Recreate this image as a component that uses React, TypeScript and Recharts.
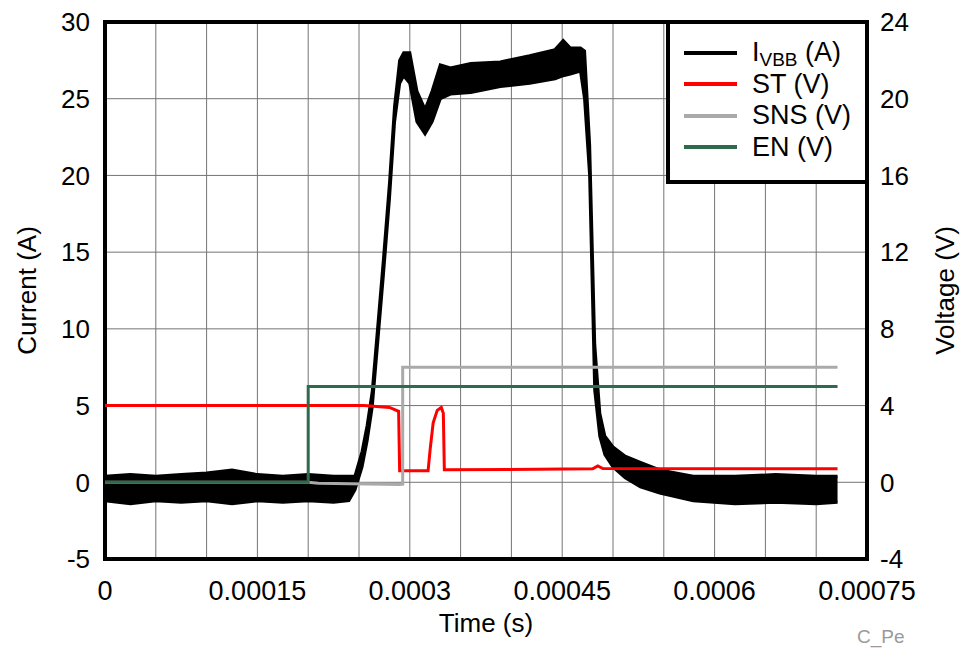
import React from 'react';
import { ComposedChart, Area, Line, XAxis, YAxis, CartesianGrid, ReferenceArea, Legend } from 'recharts';

const FONT = '"Liberation Sans", Arial, Helvetica, sans-serif';

// I_VBB scope trace is a noisy band -> kept as lower / upper envelope (A)
const iTime = [
  0, 0.000025, 0.00005, 0.000075, 0.0001, 0.000125, 0.00015, 0.000175, 0.0002, 0.000225,
  0.00024, 0.000246, 0.000253, 0.000258, 0.000263, 0.000268, 0.000274, 0.00028, 0.000285, 0.00029,
  0.000294, 0.0003, 0.000307, 0.000315, 0.000322, 0.00033, 0.00034, 0.00036, 0.000389, 0.000418,
  0.000443, 0.000451, 0.000458, 0.000468, 0.000472, 0.000477, 0.000482, 0.000487, 0.000492, 0.0005,
  0.000512, 0.000527, 0.000546, 0.000579, 0.00062, 0.00066, 0.0007, 0.000721,
];
const iLow = [
  -1.2, -1.4, -1.2, -1.3, -1.2, -1.4, -1.2, -1.3, -1.2, -1.3,
  -1.2, -0.5, 1.0, 2.7, 4.9, 8.8, 13.5, 18.5, 23.5, 26.0,
  26.5, 26.0, 23.5, 22.7, 23.5, 25.0, 25.3, 25.4, 25.8, 26.0,
  26.3, 26.5, 26.6, 26.8, 25.0, 20.0, 6.0, 3.0, 1.8, 1.0,
  0.3, -0.3, -0.7, -1.2, -1.4, -1.3, -1.4, -1.3,
];
const iHigh = [
  0.4, 0.5, 0.4, 0.5, 0.6, 0.8, 0.5, 0.4, 0.5, 0.4,
  0.4, 0.4, 2.0, 3.7, 5.9, 9.8, 14.5, 19.5, 24.5, 27.5,
  28.0, 28.0, 25.5, 24.3, 25.5, 27.2, 27.0, 27.3, 27.4, 27.8,
  28.2, 28.8, 28.3, 28.3, 28.1, 22.0, 9.0, 4.5, 3.0, 2.3,
  1.7, 1.3, 0.8, 0.4, 0.4, 0.5, 0.4, 0.4,
];

// ST (V)
const stTime = [0, 0.000255, 0.00028, 0.000289, 0.00029, 0.000318, 0.00032, 0.000323, 0.000327, 0.000331, 0.000333, 0.000334, 0.00048, 0.000485, 0.00049, 0.000721];
const stVolt = [4.0, 4.0, 3.9, 3.7, 0.6, 0.6, 1.7, 3.1, 3.75, 3.9, 3.6, 0.65, 0.7, 0.85, 0.72, 0.7];

// SNS (V)
const snsTime = [0, 0.0002, 0.00021, 0.00029, 0.000293, 0.000293, 0.000721];
const snsVolt = [0, 0, -0.05, -0.12, -0.1, 6.0, 6.0];

// EN (V)
const enTime = [0, 0.0002, 0.0002, 0.000721];
const enVolt = [0, 0, 5, 5];

const xTicks = [0, 0.00005, 0.0001, 0.00015, 0.0002, 0.00025, 0.0003, 0.00035, 0.0004, 0.00045, 0.0005, 0.00055, 0.0006, 0.00065, 0.0007, 0.00075];
const xTickLabels = ['0', '', '', '0.00015', '', '', '0.0003', '', '', '0.00045', '', '', '0.0006', '', '', '0.00075'];
const currentTicks = [-5, 0, 5, 10, 15, 20, 25, 30];
const voltageTicks = [-4, 0, 4, 8, 12, 16, 20, 24];

const iData = iTime.map((t, i) => ({ t, range: [iLow[i], iHigh[i]] }));
const stData = stTime.map((t, i) => ({ t, v: stVolt[i] }));
const snsData = snsTime.map((t, i) => ({ t, v: snsVolt[i] }));
const enData = enTime.map((t, i) => ({ t, v: enVolt[i] }));

const legendRows = [
  { name: 'I', sub: 'VBB', unit: ' (A)', color: '#000000' },
  { name: 'ST', sub: '', unit: ' (V)', color: '#ff0000' },
  { name: 'SNS', sub: '', unit: ' (V)', color: '#aaaaaa' },
  { name: 'EN', sub: '', unit: ' (V)', color: '#2e6b4c' },
];

const tickStyle = { fill: '#000', fontSize: 26, fontFamily: FONT };

function LegendBox() {
  return (
    <div
      style={{
        boxSizing: 'border-box',
        width: 203,
        height: 164,
        border: '4px solid #000',
        background: '#fff',
        paddingTop: 13,
        fontFamily: FONT,
        fontSize: 27,
        color: '#000',
      }}
    >
      {legendRows.map((r) => (
        <div key={r.name} style={{ display: 'flex', alignItems: 'center', height: 31.5 }}>
          <div style={{ marginLeft: 14, width: 53, height: 4, background: r.color }} />
          <span style={{ marginLeft: 15, lineHeight: '31.5px', whiteSpace: 'nowrap' }}>
            {r.name}
            {r.sub && <span style={{ fontSize: 19, verticalAlign: -5, lineHeight: 0 }}>{r.sub}</span>}
            {r.unit}
          </span>
        </div>
      ))}
    </div>
  );
}

export default function App() {
  return (
    <div style={{ position: 'absolute', left: 0, top: 0, width: 963, height: 650, background: '#fff', fontFamily: FONT }}>
      <ComposedChart width={963} height={650} margin={{ top: 22, right: 0, bottom: 0, left: 0 }}>
        <CartesianGrid yAxisId="I" stroke="#747474" strokeWidth={1} />
        <XAxis
          dataKey="t"
          type="number"
          domain={[0, 0.00075]}
          ticks={xTicks}
          interval={0}
          tickFormatter={(v: number) => xTickLabels[xTicks.indexOf(v)]}
          tickLine={false}
          axisLine={false}
          tickSize={0}
          tickMargin={22}
          height={91}
          tick={{ ...tickStyle, fontSize: 27 }}
          label={{ value: 'Time (s)', position: 'insideBottom', offset: 18, fill: '#000', fontSize: 26, fontFamily: FONT }}
        />
        <YAxis
          yAxisId="I"
          domain={[-5, 30]}
          ticks={currentTicks}
          interval={0}
          width={105}
          tickLine={false}
          axisLine={false}
          tickSize={0}
          tickMargin={15}
          tick={tickStyle}
          label={{ value: 'Current (A)', angle: -90, position: 'insideLeft', offset: 27, fill: '#000', fontSize: 26, fontFamily: FONT, style: { textAnchor: 'middle' } }}
        />
        <YAxis
          yAxisId="V"
          orientation="right"
          domain={[-4, 24]}
          ticks={voltageTicks}
          interval={0}
          width={96}
          tickLine={false}
          axisLine={false}
          tickSize={0}
          tickMargin={13}
          tick={tickStyle}
          label={{ value: 'Voltage (V)', angle: -90, position: 'insideRight', offset: 18, fill: '#000', fontSize: 26, fontFamily: FONT, style: { textAnchor: 'middle' } }}
        />
        <Area
          yAxisId="I"
          data={iData}
          dataKey="range"
          type="linear"
          stroke="#000"
          strokeWidth={3}
          fill="#000"
          fillOpacity={1}
          dot={false}
          activeDot={false}
          isAnimationActive={false}
        />
        <Line yAxisId="V" data={stData} dataKey="v" type="linear" stroke="#ff0000" strokeWidth={3} dot={false} activeDot={false} isAnimationActive={false} />
        <Line yAxisId="V" data={snsData} dataKey="v" type="linear" stroke="#aaaaaa" strokeWidth={3} dot={false} activeDot={false} isAnimationActive={false} />
        <Line yAxisId="V" data={enData} dataKey="v" type="linear" stroke="#2e6b4c" strokeWidth={3} dot={false} activeDot={false} isAnimationActive={false} />
        <ReferenceArea yAxisId="I" x1={0} x2={0.00075} y1={-5} y2={30} fill="none" stroke="#000" strokeWidth={4} />
        <Legend
          layout="vertical"
          align="center"
          verticalAlign="middle"
          content={<LegendBox />}
          wrapperStyle={{ left: 666, top: 20, width: 203, height: 164 }}
        />
      </ComposedChart>
      <div style={{ position: 'absolute', left: 857, top: 626, fontSize: 19, color: '#9a9a9a' }}>C_Pe</div>
    </div>
  );
}
